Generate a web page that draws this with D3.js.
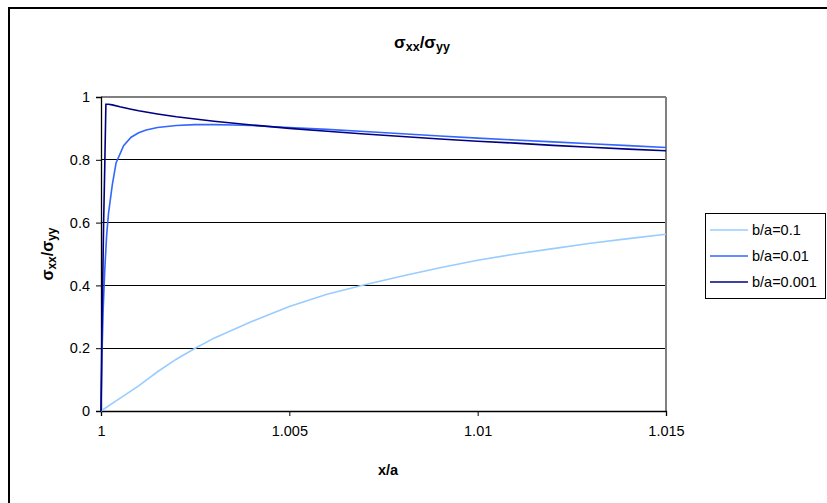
<!DOCTYPE html>
<html><head><meta charset="utf-8">
<script src="https://cdn.jsdelivr.net/npm/d3@7"></script>
<style>body{margin:0;background:#fff}svg{display:block}text{font-family:"Liberation Sans",Arial,sans-serif}</style>
</head><body>
<svg id="c" width="827" height="503"></svg>
<script>
// ---- data ----
const seriesNames = ["b/a=0.1", "b/a=0.01", "b/a=0.001"];
const xTicks = [1, 1.005, 1.01, 1.015];
const yTicks = [0, 0.2, 0.4, 0.6, 0.8, 1];
const xA01 = [1, 1.0005, 1.001, 1.0015, 1.002, 1.0025, 1.003, 1.004, 1.005, 1.006, 1.007, 1.008, 1.009, 1.01, 1.011, 1.012, 1.013, 1.014, 1.015];
const yA01 = [0, 0.04, 0.08, 0.125, 0.165, 0.2, 0.232, 0.285, 0.333, 0.372, 0.402, 0.43, 0.456, 0.48, 0.5, 0.517, 0.534, 0.549, 0.563];
const xA001 = [1, 1.00003, 1.00006, 1.0001, 1.00015, 1.0002, 1.0003, 1.0004, 1.0006, 1.0008, 1.001, 1.0012, 1.0015, 1.002, 1.0025, 1.003, 1.0035, 1.004, 1.005, 1.006, 1.007, 1.008, 1.009, 1.01, 1.011, 1.012, 1.013, 1.014, 1.015];
const yA001 = [0, 0.2, 0.33, 0.45, 0.56, 0.63, 0.72, 0.79, 0.845, 0.872, 0.886, 0.895, 0.903, 0.909, 0.912, 0.912, 0.911, 0.909, 0.903, 0.897, 0.89, 0.883, 0.876, 0.869, 0.863, 0.857, 0.851, 0.845, 0.839];
const xA0001 = [1, 1.00003, 1.00007, 1.0001, 1.00013, 1.0002, 1.0003, 1.0005, 1.0008, 1.001, 1.0015, 1.002, 1.0025, 1.003, 1.004, 1.005, 1.006, 1.007, 1.008, 1.009, 1.01, 1.011, 1.012, 1.013, 1.014, 1.015];
const yA0001 = [0, 0.3, 0.6, 0.78, 0.977, 0.977, 0.975, 0.969, 0.961, 0.956, 0.946, 0.937, 0.93, 0.923, 0.911, 0.9, 0.891, 0.882, 0.874, 0.866, 0.859, 0.853, 0.846, 0.84, 0.834, 0.829];
const colors = ["#99CCFF", "#3366FF", "#000080"];

const series = [
  {name: seriesNames[0], xs: xA01, ys: yA01, color: colors[0]},
  {name: seriesNames[1], xs: xA001, ys: yA001, color: colors[1]},
  {name: seriesNames[2], xs: xA0001, ys: yA0001, color: colors[2]}
];

const svg = d3.select("#c");
const L = 101, R = 666, T = 97, B = 411;
const x = d3.scaleLinear().domain([1, 1.015]).range([L, R]);
const y = d3.scaleLinear().domain([0, 1]).range([B, T]);

// outer chart border
svg.append("rect").attr("x", 9).attr("y", 8).attr("width", 840).attr("height", 560)
  .attr("fill", "none").attr("stroke", "#000").attr("stroke-width", 2);

// gridlines
svg.append("g").selectAll("line").data(yTicks.filter(d => d > 0 && d < 1)).join("line")
  .attr("x1", L).attr("x2", R).attr("y1", d => y(d)).attr("y2", d => y(d))
  .attr("stroke", "#000").attr("stroke-width", 1).attr("shape-rendering", "crispEdges");

// plot area border (top/right gray)
svg.append("line").attr("x1", L).attr("x2", R).attr("y1", T).attr("y2", T)
  .attr("stroke", "#808080").attr("stroke-width", 2).attr("shape-rendering", "crispEdges");
svg.append("line").attr("x1", R).attr("x2", R).attr("y1", T).attr("y2", B)
  .attr("stroke", "#808080").attr("stroke-width", 2).attr("shape-rendering", "crispEdges");

// axes
const fmt = d => String(d);
const xAxis = svg.append("g").attr("transform", `translate(0,${B})`)
  .call(d3.axisBottom(x).tickValues(xTicks).tickFormat(fmt).tickSize(5).tickPadding(10));
const yAxis = svg.append("g").attr("transform", `translate(${L},0)`)
  .call(d3.axisLeft(y).tickValues(yTicks).tickFormat(fmt).tickSize(5).tickPadding(6));
[xAxis, yAxis].forEach(g => {
  g.select(".domain").attr("stroke", "#000").attr("stroke-width", 1.3);
  g.selectAll(".tick line").attr("stroke", "#000");
  g.selectAll("text").attr("font-size", "14.5px").attr("fill", "#000")
    .attr("font-family", '"Liberation Sans",Arial,sans-serif');
});

// lines
const line = d3.line().x(d => x(d[0])).y(d => y(d[1]));
series.forEach(s => {
  svg.append("path").datum(s.xs.map((v, i) => [v, s.ys[i]]))
    .attr("d", line).attr("fill", "none").attr("stroke", s.color).attr("stroke-width", 1.6);
});

// title
const title = svg.append("text").attr("x", 422).attr("y", 48).attr("text-anchor", "middle")
  .attr("font-weight", "bold").attr("font-size", "17px");
title.append("tspan").text("σ");
title.append("tspan").attr("font-size", "12.5px").attr("dy", 3).text("xx");
title.append("tspan").attr("dy", -3).text("/σ");
title.append("tspan").attr("font-size", "12.5px").attr("dy", 3).text("yy");

// x axis title
svg.append("text").attr("x", 388).attr("y", 475).attr("text-anchor", "middle")
  .attr("font-weight", "bold").attr("font-size", "14.5px").text("x/a");

// y axis title
const yt = svg.append("text").attr("transform", "translate(53,254) rotate(-90)")
  .attr("text-anchor", "middle").attr("font-weight", "bold").attr("font-size", "16px");
yt.append("tspan").text("σ");
yt.append("tspan").attr("font-size", "12px").attr("dy", 3).text("xx");
yt.append("tspan").attr("dy", -3).text("/σ");
yt.append("tspan").attr("font-size", "12px").attr("dy", 3).text("yy");

// legend
const lg = svg.append("g");
lg.append("rect").attr("x", 705.5).attr("y", 213.5).attr("width", 120).attr("height", 85)
  .attr("fill", "#fff").attr("stroke", "#000").attr("stroke-width", 1);
series.forEach((s, i) => {
  const yy = 230 + i * 26;
  lg.append("line").attr("x1", 710).attr("x2", 748).attr("y1", yy).attr("y2", yy)
    .attr("stroke", s.color).attr("stroke-width", 1.6);
  lg.append("text").attr("x", 752).attr("y", yy + 5).attr("font-size", "14.5px").text(s.name);
});
</script>
</body></html>
